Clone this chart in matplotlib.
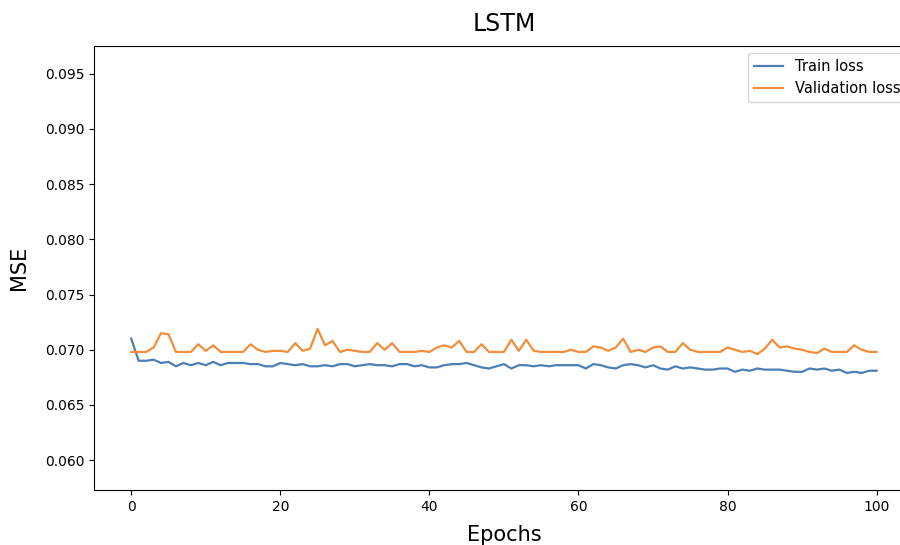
import numpy as np
import matplotlib.pyplot as plt

# per-epoch MSE
train_loss = [
    0.0710, 0.0690, 0.0690, 0.0691, 0.0688, 0.0689, 0.0685, 0.0688, 0.0686, 0.0688,
    0.0686, 0.0689, 0.0686, 0.0688, 0.0688, 0.0688, 0.0687, 0.0687, 0.0685, 0.0685,
    0.0688, 0.0687, 0.0686, 0.0687, 0.0685, 0.0685, 0.0686, 0.0685, 0.0687, 0.0687,
    0.0685, 0.0686, 0.0687, 0.0686, 0.0686, 0.0685, 0.0687, 0.0687, 0.0685, 0.0686,
    0.0684, 0.0684, 0.0686, 0.0687, 0.0687, 0.0688, 0.0686, 0.0684, 0.0683, 0.0685,
    0.0687, 0.0683, 0.0686, 0.0686, 0.0685, 0.0686, 0.0685, 0.0686, 0.0686, 0.0686,
    0.0686, 0.0683, 0.0687, 0.0686, 0.0684, 0.0683, 0.0686, 0.0687, 0.0686, 0.0684,
    0.0686, 0.0683, 0.0682, 0.0685, 0.0683, 0.0684, 0.0683, 0.0682, 0.0682, 0.0683,
    0.0683, 0.0680, 0.0682, 0.0681, 0.0683, 0.0682, 0.0682, 0.0682, 0.0681, 0.0680,
    0.0680, 0.0683, 0.0682, 0.0683, 0.0681, 0.0682, 0.0679, 0.0680, 0.0679, 0.0681,
    0.0681,
]

val_loss = [
    0.0698, 0.0698, 0.0698, 0.0702, 0.0715, 0.0714, 0.0698, 0.0698, 0.0698, 0.0705,
    0.0699, 0.0704, 0.0698, 0.0698, 0.0698, 0.0698, 0.0705, 0.0700, 0.0698, 0.0699,
    0.0699, 0.0698, 0.0706, 0.0699, 0.0701, 0.0719, 0.0704, 0.0708, 0.0698, 0.0700,
    0.0699, 0.0698, 0.0698, 0.0706, 0.0700, 0.0706, 0.0698, 0.0698, 0.0698, 0.0699,
    0.0698, 0.0702, 0.0704, 0.0702, 0.0708, 0.0698, 0.0698, 0.0705, 0.0698, 0.0698,
    0.0698, 0.0709, 0.0699, 0.0709, 0.0699, 0.0698, 0.0698, 0.0698, 0.0698, 0.0700,
    0.0698, 0.0698, 0.0703, 0.0702, 0.0699, 0.0702, 0.0710, 0.0698, 0.0700, 0.0698,
    0.0702, 0.0703, 0.0698, 0.0698, 0.0706, 0.0700, 0.0698, 0.0698, 0.0698, 0.0698,
    0.0702, 0.0700, 0.0698, 0.0699, 0.0696, 0.0701, 0.0709, 0.0702, 0.0703, 0.0701,
    0.0700, 0.0698, 0.0697, 0.0701, 0.0698, 0.0698, 0.0698, 0.0704, 0.0700, 0.0698,
    0.0698,
]

epochs = np.arange(len(train_loss))

fig = plt.figure(figsize=(9, 5.45), dpi=100)
# the reference is cropped on the right, so the axes run past the figure edge
ax = fig.add_axes([0.1044, 0.1009, 0.911, 0.8147])
ax.spines['right'].set_visible(False)

ax.plot(epochs, train_loss, label='Train loss', color="#4c7fb5", lw=1.6)
ax.plot(epochs, val_loss, label='Validation loss', color="#f28e3b", lw=1.6)

ax.set_ylim(0.0573, 0.0975)
ax.set_yticks([0.060, 0.065, 0.070, 0.075, 0.080, 0.085, 0.090, 0.095])
ax.set_xticks([0, 20, 40, 60, 80, 100])

ax.set_title("LSTM", fontsize=17, pad=11)
ax.set_xlabel("Epochs", fontsize=15, labelpad=8)
ax.set_ylabel("MSE", fontsize=15, labelpad=11)

ax.legend(loc='upper right', fontsize=10.5)

fig.savefig("out.png", dpi=100)
